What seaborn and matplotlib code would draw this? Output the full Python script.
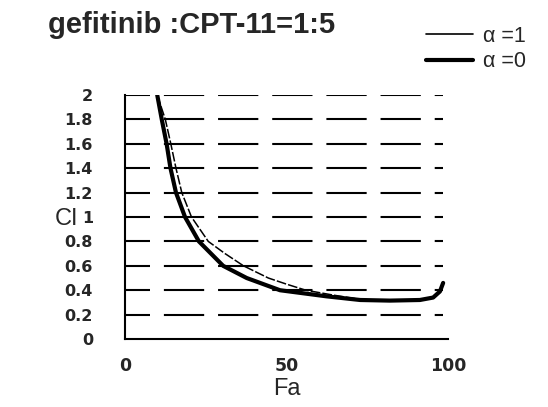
import matplotlib
matplotlib.use("Agg")
import matplotlib.pyplot as plt
import pandas as pd
import seaborn as sns

sns.set_style("white")
plt.rcParams['font.family'] = ['Liberation Sans', 'DejaVu Sans']
plt.rcParams['lines.scale_dashes'] = False

# alpha = 0 (thick curve)
fa_a0 = [10.0, 11.4, 12.9, 14.1, 15.8, 18.6, 22.9, 30.4, 37.7, 48.0, 62.4, 72.8, 82.0, 91.3, 95.4, 97.5, 98.5]
ci_a0 = [2.0, 1.8, 1.6, 1.4, 1.2, 1.0, 0.8, 0.6, 0.5, 0.4, 0.35, 0.32, 0.315, 0.32, 0.34, 0.39, 0.46]

# alpha = 1 (thin curve)
fa_a1 = [10.0, 12.5, 14.2, 15.8, 17.6, 20.6, 25.8, 31.0, 36.7, 44.4, 50.0, 56.0, 64.5, 72.8, 82.0, 91.3, 95.4, 97.5, 98.5]
ci_a1 = [2.0, 1.8, 1.6, 1.4, 1.2, 1.0, 0.8, 0.7, 0.6, 0.5, 0.45, 0.4, 0.36, 0.325, 0.315, 0.32, 0.34, 0.39, 0.46]

yticks = [0, 0.2, 0.4, 0.6, 0.8, 1, 1.2, 1.4, 1.6, 1.8, 2]
ytick_labels = ["0", "0.2", "0.4", "0.6", "0.8", "1", "1.2", "1.4", "1.6", "1.8", "2"]
xticks = [0, 50, 100]

df0 = pd.DataFrame({"Fa": fa_a0, "CI": ci_a0})
df1 = pd.DataFrame({"Fa": fa_a1, "CI": ci_a1})

fig = plt.figure(figsize=(5.48, 4.07), dpi=100)
ax = fig.add_axes([0.228, 0.167, 0.5895, 0.5995])

# dashed horizontal grid
for y in yticks[1:]:
    ax.axhline(y, xmax=0.985, color="black", lw=1.5, linestyle=(11, (29, 10)), zorder=1)

sns.lineplot(data=df1, x="Fa", y="CI", sort=False, color="black", lw=1.1,
             linestyle=(0, (7, 1.5)), label="\u03b1 =1", ax=ax, zorder=3)
sns.lineplot(data=df0, x="Fa", y="CI", sort=False, color="black", lw=3.0,
             label="\u03b1 =0", ax=ax, zorder=2)

ax.set_xlim(0, 100)
ax.set_ylim(0, 2)
ax.set_xticks(xticks)
ax.set_yticks(yticks)
ax.set_yticklabels(ytick_labels)
for lab in ax.get_xticklabels() + ax.get_yticklabels():
    lab.set_family("DejaVu Sans")
    lab.set_fontweight("bold")
for lab in ax.get_xticklabels():
    lab.set_fontsize(12.5)
for lab in ax.get_yticklabels():
    lab.set_fontsize(11.5)
ax.tick_params(axis="y", length=0, pad=23)
ax.tick_params(axis="x", length=0, pad=13)

for s in ["top", "right"]:
    ax.spines[s].set_visible(False)
for s in ["left", "bottom"]:
    ax.spines[s].set_color("black")
    ax.spines[s].set_linewidth(1.5)

ax.set_xlabel("Fa", fontsize=17, labelpad=2)
ax.set_ylabel("CI", fontsize=17, rotation=0, va="center")
ax.yaxis.set_label_coords(-0.18, 0.49)

fig.text(0.0876, 0.919, "gefitinib :CPT-11=1:5", fontsize=21, fontweight="bold",
         va="baseline")

leg = ax.legend(loc="upper left", bbox_to_anchor=(426 / 548, 1 - 26 / 407),
                bbox_transform=fig.transFigure, frameon=False, fontsize=15.5,
                handlelength=2.2, handletextpad=0.45, labelspacing=0.2,
                borderaxespad=0, borderpad=0)
for h in leg.get_lines():
    h.set_linestyle("-")
leg.get_lines()[0].set_linewidth(1.2)
leg.get_lines()[1].set_linewidth(3.0)

fig.savefig("out.png", dpi=100)
